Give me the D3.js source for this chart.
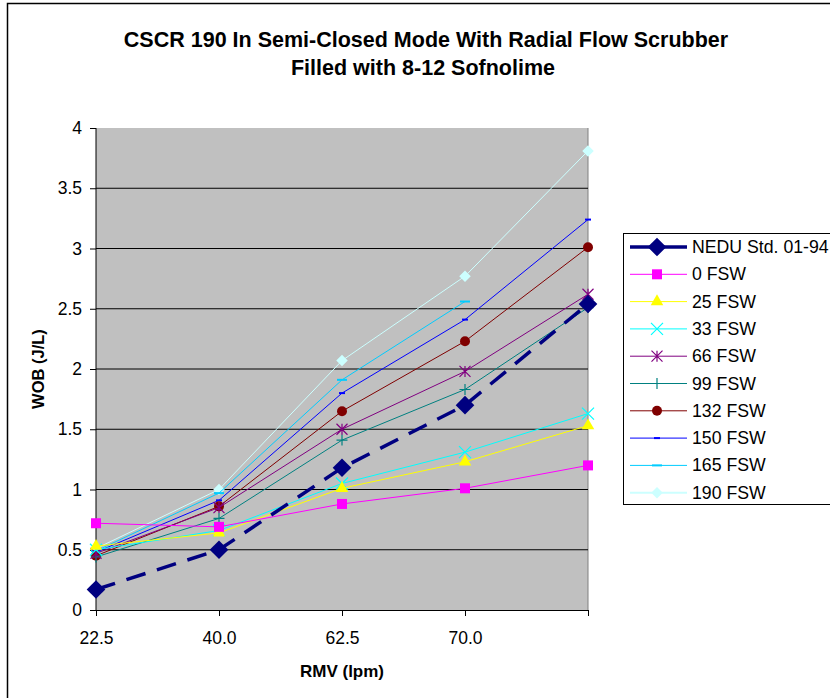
<!DOCTYPE html>
<html>
<head>
<meta charset="utf-8">
<script src="https://cdn.jsdelivr.net/npm/d3@7"></script>
<style>
  body { margin: 0; background: #fff; }
  text { font-family: Arial, "Liberation Sans", sans-serif; }
</style>
</head>
<body>
<svg id="chart" width="830" height="698"></svg>
<script>
// categories on the x axis (the fifth one has no label in the original)
var rmvLabels = ["22.5", "40.0", "62.5", "70.0", ""]
var yTicks = [0, 0.5, 1, 1.5, 2, 2.5, 3, 3.5, 4]

// series values, WOB (J/L)
var nedu   = [0.17, 0.50, 1.18, 1.70, 2.54]
var fsw0   = [0.72, 0.69, 0.88, 1.01, 1.20]
var fsw25  = [0.53, 0.64, 1.01, 1.23, 1.53]
var fsw33  = [0.50, 0.66, 1.05, 1.31, 1.63]
var fsw66  = [0.47, 0.85, 1.50, 1.98, 2.62]
var fsw99  = [0.44, 0.76, 1.41, 1.83, 2.51]
var fsw132 = [0.45, 0.86, 1.65, 2.23, 3.01]
var fsw150 = [0.48, 0.91, 1.80, 2.41, 3.24]
var fsw165 = [0.49, 0.97, 1.91, 2.56, null]
var fsw190 = [0.51, 1.00, 2.07, 2.77, 3.81]

var seriesNames = ["NEDU Std. 01-94", "0 FSW", "25 FSW", "33 FSW", "66 FSW", "99 FSW",
                   "132 FSW", "150 FSW", "165 FSW", "190 FSW"]
var seriesValues = [nedu, fsw0, fsw25, fsw33, fsw66, fsw99, fsw132, fsw150, fsw165, fsw190]

var styles = [
  { color: "#000080", width: 3.5, dash: "20,12", marker: "diamond", size: 10.5 },
  { color: "#FF00FF", width: 1, marker: "square", size: 5 },
  { color: "#FFFF00", width: 1, marker: "triangle", size: 6 },
  { color: "#00FFFF", width: 1, marker: "x", size: 6 },
  { color: "#800080", width: 1, marker: "star", size: 5.5 },
  { color: "#008080", width: 1, marker: "plus", size: 5.5 },
  { color: "#800000", width: 1, marker: "circle", size: 5 },
  { color: "#0000FF", width: 1, marker: "dash", size: 3 },
  { color: "#00CCFF", width: 1, marker: "dash", size: 5 },
  { color: "#CCFFFF", width: 1, marker: "diamond", size: 6.5 }
]

var svg = d3.select("#chart")

// outer chart frame
svg.append("path")
  .attr("d", "M7.5,698 V3.5 H830")
  .attr("fill", "none")
  .attr("stroke", "#000")
  .attr("stroke-width", 1.5)

var plotLeft = 96, plotRight = 588, plotTop = 128, plotBottom = 610

var x = d3.scalePoint().domain(d3.range(rmvLabels.length)).range([plotLeft, plotRight])
var y = d3.scaleLinear().domain([0, 4]).range([plotBottom, plotTop])

// plot area
svg.append("rect")
  .attr("x", plotLeft).attr("y", plotTop)
  .attr("width", plotRight - plotLeft).attr("height", plotBottom - plotTop)
  .attr("fill", "#C0C0C0")

svg.append("line")
  .attr("x1", plotRight).attr("x2", plotRight).attr("y1", plotTop).attr("y2", plotBottom)
  .attr("stroke", "#808080")

svg.append("g").selectAll("line")
  .data(yTicks.filter(function(d) { return d > 0 && d < 4 }))
  .join("line")
  .attr("x1", plotLeft).attr("x2", plotRight)
  .attr("y1", function(d) { return y(d) }).attr("y2", function(d) { return y(d) })
  .attr("stroke", "#000")

// axes
var yAxis = svg.append("g")
  .attr("transform", "translate(" + plotLeft + ",0)")
  .call(d3.axisLeft(y).tickValues(yTicks).tickSize(6).tickPadding(8).tickFormat(d3.format("")))
var xAxis = svg.append("g")
  .attr("transform", "translate(0," + plotBottom + ")")
  .call(d3.axisBottom(x).tickSize(6).tickPadding(16).tickFormat(function(d) { return rmvLabels[d] }))

;[yAxis, xAxis].forEach(function(a) {
  a.attr("font-size", null).attr("font-family", null)
  a.selectAll("path").attr("stroke", "#000")
  a.selectAll("line").attr("stroke", "#000")
  a.selectAll("text").attr("fill", "#000").style("font-size", "17.5px")
})
yAxis.select(".domain").attr("d", "M0," + plotBottom + "V" + plotTop)

// marker drawing
function markerPath(type, s) {
  if (type == "diamond") return d3.symbol(d3.symbolDiamond2, 2 * s * s)()
  if (type == "square") return d3.symbol(d3.symbolSquare, 4 * s * s)()
  if (type == "triangle") return d3.symbol(d3.symbolTriangle, s * s * 1.9)()
  if (type == "circle") return d3.symbol(d3.symbolCircle, Math.PI * s * s)()
  if (type == "plus") return "M" + (-s) + ",0H" + s + "M0," + (-s) + "V" + s
  if (type == "x") return "M" + (-s) + "," + (-s) + "L" + s + "," + s + "M" + (-s) + "," + s + "L" + s + "," + (-s)
  if (type == "star") return "M" + (-s) + "," + (-s) + "L" + s + "," + s + "M" + (-s) + "," + s + "L" + s + "," + (-s) + "M0," + (-s) + "V" + s
  if (type == "dash") return "M" + (-s) + ",-1h" + (2 * s) + "v2h" + (-2 * s) + "z"
}
function drawMarker(g, st) {
  var lineOnly = st.marker == "plus" || st.marker == "x" || st.marker == "star"
  g.append("path")
    .attr("d", markerPath(st.marker, st.size))
    .attr("fill", lineOnly ? "none" : st.color)
    .attr("stroke", lineOnly ? st.color : "none")
    .attr("stroke-width", lineOnly ? 1.2 : 0)
}

var line = d3.line()
  .defined(function(d) { return d != null })
  .x(function(d, i) { return x(i) })
  .y(function(d) { return y(d) })

// draw from the last series to the first so the NEDU line is on top
var order = d3.range(seriesValues.length).reverse()
var plot = svg.append("g")
order.forEach(function(k) {
  var st = styles[k]
  plot.append("path")
    .datum(seriesValues[k])
    .attr("d", line)
    .attr("fill", "none")
    .attr("stroke", st.color)
    .attr("stroke-width", st.width)
    .attr("stroke-dasharray", st.dash || null)
  seriesValues[k].forEach(function(v, i) {
    if (v == null) return
    var g = plot.append("g").attr("transform", "translate(" + x(i) + "," + y(v) + ")")
    drawMarker(g, st)
  })
})

// titles
svg.append("text")
  .attr("x", 426).attr("y", 47)
  .attr("text-anchor", "middle")
  .style("font-size", "21.5px").style("font-weight", "bold")
  .text("CSCR 190 In Semi-Closed Mode With Radial Flow Scrubber")
svg.append("text")
  .attr("x", 423).attr("y", 75)
  .attr("text-anchor", "middle")
  .style("font-size", "21.5px").style("font-weight", "bold")
  .text("Filled with 8-12 Sofnolime")

svg.append("text")
  .attr("transform", "translate(44,369) rotate(-90)")
  .attr("text-anchor", "middle")
  .style("font-size", "16.5px").style("font-weight", "bold")
  .text("WOB (J/L)")
svg.append("text")
  .attr("x", 342).attr("y", 677)
  .attr("text-anchor", "middle")
  .style("font-size", "17px").style("font-weight", "bold")
  .text("RMV (lpm)")

// legend
var legend = svg.append("g")
legend.append("rect")
  .attr("x", 623.5).attr("y", 233.5)
  .attr("width", 230).attr("height", 271)
  .attr("fill", "#fff")
  .attr("stroke", "#000")

seriesNames.forEach(function(name, k) {
  var st = styles[k]
  var ly = 247 + k * 27.3
  legend.append("line")
    .attr("x1", 630).attr("x2", 687)
    .attr("y1", ly).attr("y2", ly)
    .attr("stroke", st.color)
    .attr("stroke-width", k == 0 ? 3.5 : (k == 9 ? 2 : 1))
  drawMarker(legend.append("g").attr("transform", "translate(657," + ly + ")"), st)
  legend.append("text")
    .attr("x", 692).attr("y", ly + 6)
    .style("font-size", "17.7px")
    .text(name)
})
</script>
</body>
</html>
